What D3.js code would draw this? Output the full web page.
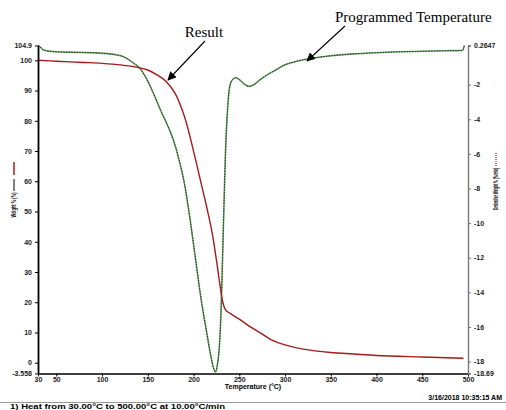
<!DOCTYPE html>
<html>
<head>
<meta charset="utf-8">
<script src="https://cdn.jsdelivr.net/npm/d3@7"></script>
<style>
  body { margin: 0; background: #fff; }
  svg { display: block; }
</style>
</head>
<body>
<div id="chart"></div>
<script>
'use strict';

/****************************Chart data*************************************/

var weightTemps = [30, 50, 80, 100, 120, 140, 150, 160, 170, 180, 190, 200, 207, 214, 220, 225, 229, 232, 235, 240, 250, 260, 273, 285, 300, 320, 350, 375, 400, 450, 495];
var weightValues = [100, 99.7, 99.3, 99, 98.5, 97.6, 96.8, 95.2, 93, 89, 81.5, 70, 61, 52, 43.5, 34, 25.5, 20, 17.5, 16.3, 14.4, 12.3, 9.9, 7.6, 5.9, 4.5, 3.4, 2.9, 2.4, 1.9, 1.5];

var derivTemps = [30, 32, 36, 45, 60, 80, 100, 115, 125, 133, 142, 150, 157, 165, 172, 178, 184, 190, 196, 202, 208, 214, 219, 222, 224, 226, 228, 230, 232, 233.5, 235, 237, 239, 242, 246, 250, 255, 261, 266, 273, 280, 290, 300, 315, 330, 350, 375, 400, 425, 450, 475, 494, 496];
var derivValues = [0.26, 0.2, 0.0, -0.08, -0.12, -0.14, -0.18, -0.27, -0.42, -0.7, -1.1, -1.8, -2.6, -3.6, -4.4, -5.2, -6.3, -7.7, -9.7, -12.0, -14.3, -16.2, -17.7, -18.4, -18.6, -18.2, -17.3, -15.2, -11.5, -8.5, -5.8, -3.6, -2.3, -1.75, -1.6, -1.7, -1.95, -2.1, -2.0, -1.7, -1.45, -1.15, -0.85, -0.62, -0.47, -0.33, -0.22, -0.15, -0.1, -0.07, -0.04, -0.02, 0.26];

var xTicks = [30, 50, 100, 150, 200, 250, 300, 350, 400, 450, 500];
var leftTicks = [104.9, 100, 90, 80, 70, 60, 50, 40, 30, 20, 10, 0, -3.558];
var rightTicks = [0.2647, -2, -4, -6, -8, -10, -12, -14, -16, -18, -18.69];

/****************************Dimensions*************************************/

var width = 506;
var height = 410;
var plotLeft = 38;
var plotRight = 468;
var plotTop = 45.5;
var plotBottom = 373.5;

var svg = d3.select("#chart").append("svg")
  .attr("width", width)
  .attr("height", height)
  .style("font-family", "'Liberation Sans', Arial, sans-serif");

svg.append("rect").attr("width", width).attr("height", height).style("fill", "#fff");

var defs = svg.append("defs");
defs.append("marker")
  .attr("id", "arrowHead")
  .attr("viewBox", "0 0 10 10")
  .attr("refX", 9).attr("refY", 5)
  .attr("markerWidth", 8).attr("markerHeight", 8)
  .attr("markerUnits", "strokeWidth")
  .attr("orient", "auto")
  .append("path").attr("d", "M0,0 L10,5 L0,10 z").style("fill", "#000");

/*******************************Scales**************************************/

var x = d3.scaleLinear().domain([30, 500]).range([plotLeft, plotRight]);
var yLeft = d3.scaleLinear().domain([-3.558, 104.9]).range([plotBottom, plotTop]);
var yRight = d3.scaleLinear().domain([-18.69, 0.2647]).range([plotBottom, plotTop]);

/*******************************Curves**************************************/

var weightData = weightTemps.map(function(t, i) { return [t, weightValues[i]]; });
var derivData = derivTemps.map(function(t, i) { return [t, derivValues[i]]; });

var weightLine = d3.line()
  .x(function(d) { return x(d[0]); })
  .y(function(d) { return yLeft(d[1]); })
  .curve(d3.curveCatmullRom.alpha(0.5));

var derivLine = d3.line()
  .x(function(d) { return x(d[0]); })
  .y(function(d) { return yRight(d[1]); })
  .curve(d3.curveMonotoneX);

svg.append("path").datum(derivData)
  .attr("d", derivLine)
  .style("fill", "none").style("stroke", "#6ea868").style("stroke-width", 1.6);

svg.append("path").datum(derivData)
  .attr("d", derivLine)
  .style("fill", "none").style("stroke", "#1a381a").style("stroke-width", 1)
  .style("stroke-dasharray", "1.5,1.2");

svg.append("path").datum(weightData)
  .attr("d", weightLine)
  .style("fill", "none").style("stroke", "#a31b1b").style("stroke-width", 1.4);

/********************************Axes***************************************/

var tickFont = function(g) {
  g.selectAll("text").style("font-size", "7px").style("font-weight", "bold").style("fill", "#222");
};

var xAxis = svg.append("g")
  .attr("transform", "translate(0," + plotBottom + ")")
  .call(d3.axisBottom(x).tickValues(xTicks).tickSize(3).tickSizeOuter(0).tickFormat(d3.format("d")));
xAxis.call(tickFont);
xAxis.select(".domain").style("stroke-width", 1.6);
xAxis.selectAll("text").attr("y", 4).attr("dy", "0.71em");

var leftAxis = svg.append("g")
  .attr("transform", "translate(" + plotLeft + ",0)")
  .call(d3.axisLeft(yLeft).tickValues(leftTicks).tickSize(3).tickSizeOuter(0).tickFormat(function(d) { return String(d); }));
leftAxis.call(tickFont);
leftAxis.select(".domain").style("stroke-width", 1.8);

var rightAxis = svg.append("g")
  .attr("transform", "translate(" + plotRight + ",0)")
  .call(d3.axisRight(yRight).tickValues(rightTicks).tickSize(3).tickSizeOuter(3).tickFormat(function(d) { return String(d); }));
rightAxis.call(tickFont);
rightAxis.select(".domain").style("stroke", "#777").style("stroke-width", 1.4);
rightAxis.selectAll(".tick line").style("stroke", "#777");

/*******************************Labels**************************************/

svg.append("text")
  .attr("x", (plotLeft + plotRight) / 2).attr("y", 389)
  .attr("text-anchor", "middle")
  .style("font-size", "7px").style("font-weight", "bold")
  .text("Temperature (°C)");

// left axis title with line sample
var leftTitle = svg.append("g").attr("transform", "translate(14,205) rotate(-90)");
leftTitle.append("text")
  .attr("x", 0).attr("y", 2.4)
  .attr("text-anchor", "middle")
  .attr("textLength", 25).attr("lengthAdjust", "spacingAndGlyphs")
  .style("font-size", "7px").style("font-weight", "bold")
  .text("Weight % (%)");
leftTitle.append("line").attr("x1", 14).attr("x2", 26).attr("y1", 0).attr("y2", 0)
  .style("stroke", "#000").style("stroke-width", 1);
leftTitle.append("line").attr("x1", 30).attr("x2", 43).attr("y1", 0).attr("y2", 0)
  .style("stroke", "#b01818").style("stroke-width", 1.5);

// right axis title with line sample
var rightTitle = svg.append("g").attr("transform", "translate(496,189) rotate(-90)");
rightTitle.append("text")
  .attr("x", 0).attr("y", 2.4)
  .attr("text-anchor", "middle")
  .attr("textLength", 42).attr("lengthAdjust", "spacingAndGlyphs")
  .style("font-size", "7px").style("font-weight", "bold")
  .text("Derivative Weight % (%/min)");
rightTitle.append("line").attr("x1", 23).attr("x2", 36).attr("y1", 0).attr("y2", 0)
  .style("stroke", "#c02020").style("stroke-width", 1.2).style("stroke-dasharray", "1,1");

svg.append("text")
  .attr("x", 502).attr("y", 400)
  .attr("text-anchor", "end")
  .style("font-size", "7px").style("font-weight", "bold")
  .text("3/16/2018 10:35:15 AM");

svg.append("line")
  .attr("x1", 0).attr("x2", width).attr("y1", 402.5).attr("y2", 402.5)
  .style("stroke", "#999").style("stroke-width", 1);

svg.append("text")
  .attr("x", 10).attr("y", 409)
  .attr("textLength", 215).attr("lengthAdjust", "spacingAndGlyphs")
  .style("font-size", "7px").style("font-weight", "bold")
  .text("1)  Heat from 30.00°C to 500.00°C at 10.00°C/min");

/*****************************Annotations***********************************/

svg.append("text")
  .attr("x", 204).attr("y", 37)
  .attr("text-anchor", "middle")
  .style("font-family", "'Liberation Serif', 'Times New Roman', serif")
  .style("font-size", "15px")
  .text("Result");

svg.append("line")
  .attr("x1", 205).attr("y1", 41).attr("x2", 168).attr("y2", 80)
  .style("stroke", "#000").style("stroke-width", 1.1)
  .attr("marker-end", "url(#arrowHead)");

svg.append("text")
  .attr("x", 335).attr("y", 22)
  .style("font-family", "'Liberation Serif', 'Times New Roman', serif")
  .style("font-size", "15px")
  .text("Programmed Temperature");

svg.append("line")
  .attr("x1", 345).attr("y1", 26).attr("x2", 307).attr("y2", 61)
  .style("stroke", "#000").style("stroke-width", 1.1)
  .attr("marker-end", "url(#arrowHead)");
</script>
</body>
</html>
